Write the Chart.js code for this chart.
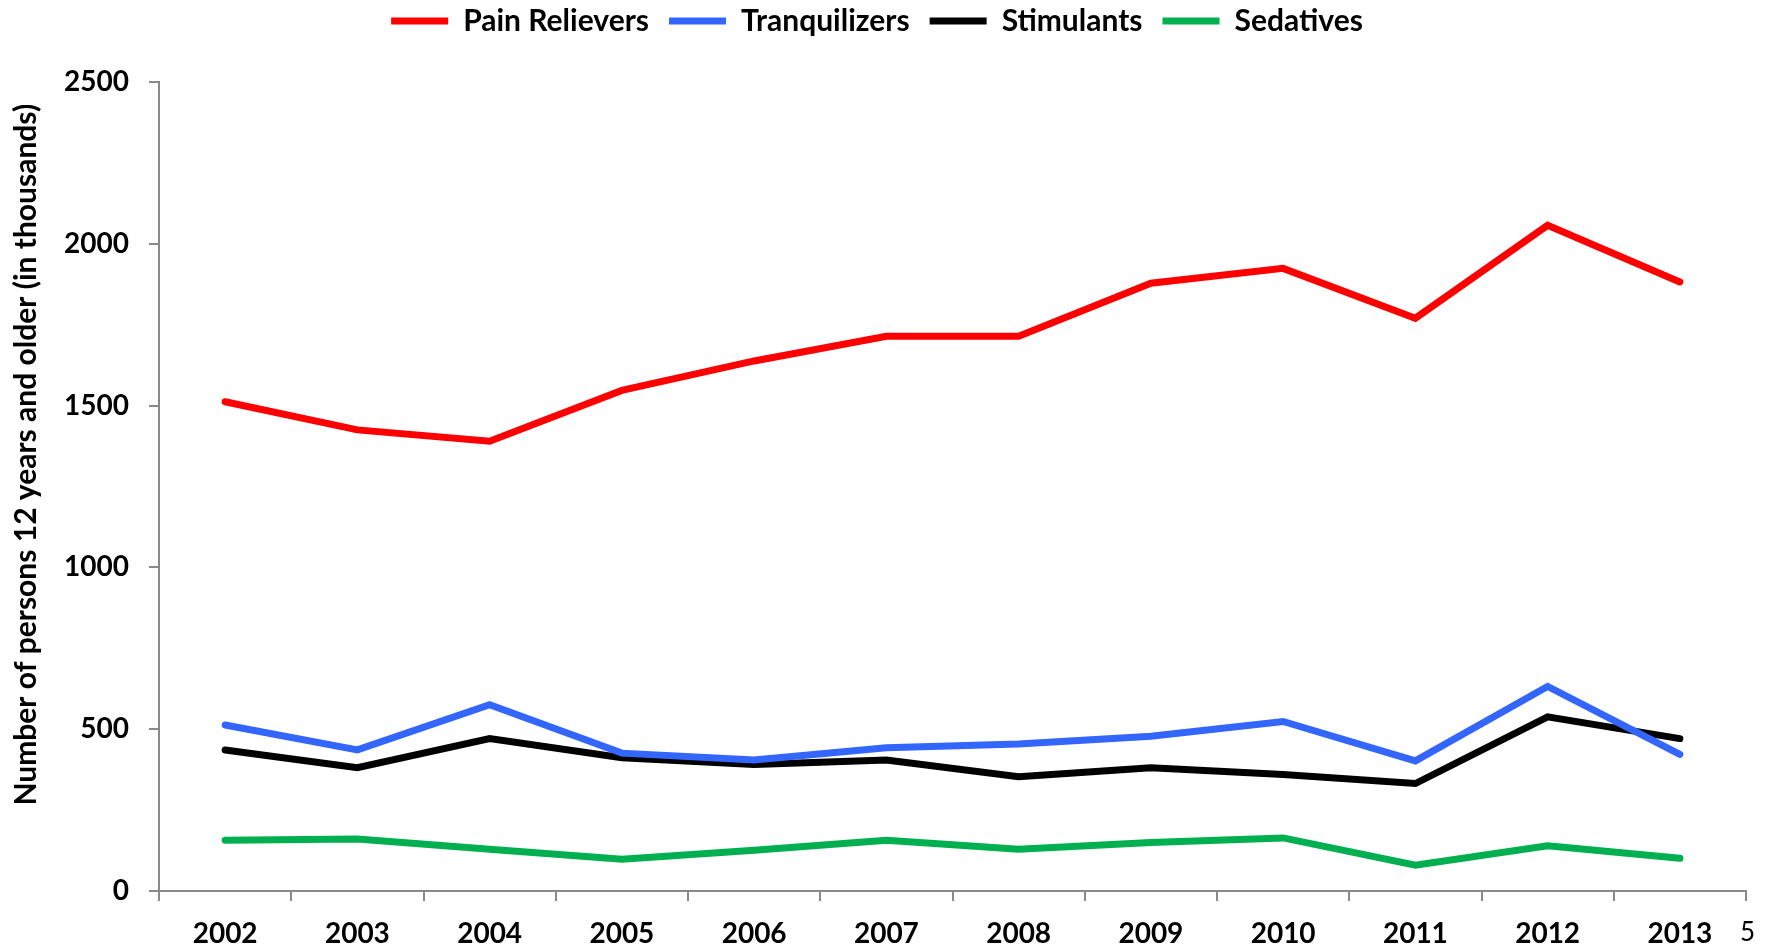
<!DOCTYPE html>
<html>
<head>
<meta charset="utf-8">
<script src="https://cdn.jsdelivr.net/npm/chart.js@4"></script>
<style>
  html, body { margin: 0; padding: 0; background: #fff; }
  #wrap { position: relative; width: 1777px; height: 949px; }
  #pageNum { position: absolute; left: 1740px; top: 915px; font: 26px Lato, sans-serif; color: #000; }
</style>
</head>
<body>
<div id="wrap">
  <canvas id="myChart" width="1777" height="949"></canvas>
  <div id="pageNum">5</div>
</div>
<script>
const years = ['2002', '2003', '2004', '2005', '2006', '2007', '2008', '2009', '2010', '2011', '2012', '2013'];
const painRelievers = [1512, 1425, 1390, 1547, 1638, 1714, 1714, 1878, 1924, 1770, 2057, 1882];
const tranquilizers = [513, 436, 576, 426, 405, 443, 454, 478, 524, 402, 632, 422];
const stimulants = [436, 381, 471, 412, 391, 405, 353, 381, 360, 332, 538, 471];
const sedatives = [157, 161, 129, 98, 126, 157, 129, 150, 164, 80, 140, 101];
const yTicks = [0, 500, 1000, 1500, 2000, 2500];

const axisGray = '#898989';
const fontFamily = 'Lato, "Open Sans", sans-serif';

function line(label, data, color) {
  return {
    label: label,
    data: data,
    borderColor: color,
    backgroundColor: color,
    borderWidth: 7,
    borderCapStyle: 'round',
    borderJoinStyle: 'miter',
    pointRadius: 0,
    pointHoverRadius: 0,
    tension: 0,
    fill: false
  };
}

// fixed legend band height so the plot starts where the original does
const legendHeight = {
  id: 'legendHeight',
  beforeInit(chart) {
    const lg = chart.legend;
    const fit = lg.fit.bind(lg);
    lg.fit = function () {
      fit();
      this.height = 96;
    };
  }
};

const myChart = document.getElementById('myChart');

new Chart(myChart, {
  type: 'line',
  data: {
    labels: years,
    datasets: [
      line('Pain Relievers', painRelievers, '#FF0000'),
      line('Tranquilizers', tranquilizers, '#3366FF'),
      line('Stimulants', stimulants, '#000000'),
      line('Sedatives', sedatives, '#00B050')
    ]
  },
  plugins: [legendHeight],
  options: {
    responsive: false,
    animation: false,
    layout: { padding: { top: -14, right: 31, left: 8, bottom: 0 } },
    plugins: {
      tooltip: { enabled: false },
      legend: {
        position: 'top',
        labels: {
          usePointStyle: true,
          pointStyle: 'line',
          pointStyleWidth: 57,
          boxHeight: 7,
          color: '#000',
          padding: 20,
          font: { family: fontFamily, size: 30, weight: 'bold' }
        }
      }
    },
    scales: {
      x: {
        offset: true,
        grid: {
          offset: true,
          drawOnChartArea: false,
          tickLength: 10,
          color: axisGray,
          lineWidth: 2
        },
        border: { color: axisGray, width: 2 },
        ticks: {
          color: '#000',
          padding: 16,
          maxRotation: 0,
          font: { family: fontFamily, size: 28, weight: 'bold' }
        },
        afterFit: function (scale) { scale.height = 58; }
      },
      y: {
        min: 0,
        max: 2500,
        afterBuildTicks: function (scale) {
          scale.ticks = yTicks.map(function (v) { return { value: v }; });
        },
        grid: {
          drawOnChartArea: false,
          tickLength: 10,
          color: axisGray,
          lineWidth: 2
        },
        border: { color: axisGray, width: 2 },
        ticks: {
          color: '#000',
          padding: 20,
          callback: function (v) { return String(v); },
          font: { family: fontFamily, size: 28, weight: 'bold' }
        },
        title: {
          display: true,
          text: 'Number of persons 12 years and older (in thousands)   ',
          align: 'end',
          color: '#000',
          padding: { top: 0, bottom: 4 },
          font: { family: fontFamily, size: 30, weight: 'bold' }
        },
        afterFit: function (scale) { scale.width = 151; }
      }
    }
  }
});
</script>
</body>
</html>
